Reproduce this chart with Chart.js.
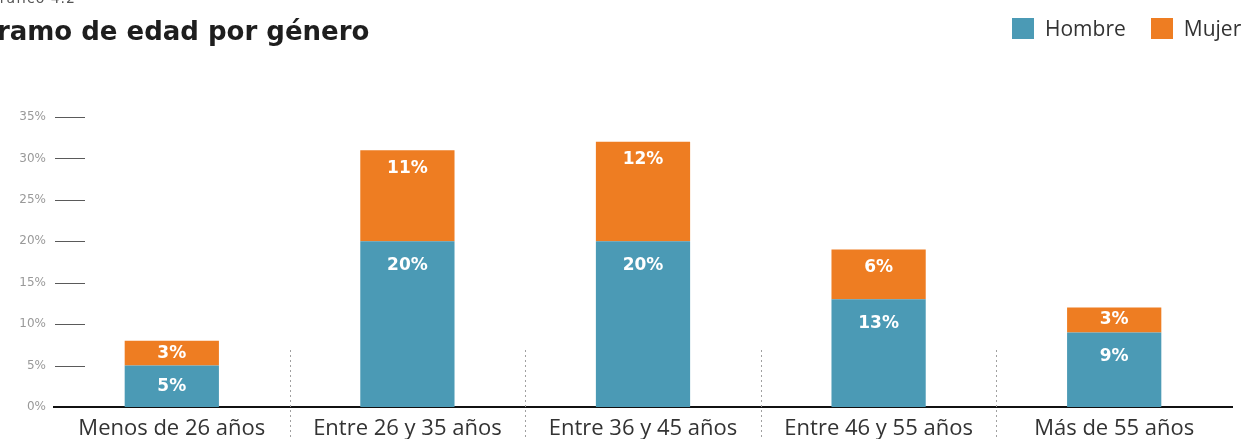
<!DOCTYPE html>
<html>
<head>
<meta charset="utf-8">
<script src="https://cdn.jsdelivr.net/npm/chart.js@4"></script>
<style>
  html, body { margin: 0; padding: 0; background: #fff; }
  #wrap { position: relative; width: 1248px; height: 439px; overflow: hidden; }
  canvas { position: absolute; left: 0; top: 0; }
  .sup { position: absolute; left: -12px; top: -10px; font: 14px "DejaVu Sans", sans-serif; color: #555; letter-spacing: 1px; }
  .title { position: absolute; left: -18px; top: 16px; font: bold 26px "DejaVu Sans", sans-serif; color: #1e1e1e; }
  .legend { position: absolute; top: 14px; left: 1012px; font: 21px "Open Sans", sans-serif; color: #333; display: flex; align-items: center; }
  .legend .sw { width: 22px; height: 21px; margin-right: 11px; }
  .legend .it { display: flex; align-items: center; margin-right: 25px; }
</style>
</head>
<body>
<div id="wrap">
  <canvas id="c" width="1248" height="439"></canvas>
  <div class="sup">Gráfico 4.2</div>
  <div class="title">Tramo de edad por género</div>
  <div class="legend" id="legend"></div>
</div>
<script>
const categories = ["Menos de 26 años", "Entre 26 y 35 años", "Entre 36 y 45 años", "Entre 46 y 55 años", "Más de 55 años"];
const seriesNames = ["Hombre", "Mujer"];
const hombre = [5, 20, 20, 13, 9];
const mujer = [3, 11, 12, 6, 3];
const yTicks = [0, 5, 10, 15, 20, 25, 30, 35];

const colors = ["#4b9ab5", "#ee7d22"];
const labelOffsets = [24, 18];

// HTML legend
const lg = document.getElementById('legend');
seriesNames.forEach((n, i) => {
  const it = document.createElement('div'); it.className = 'it';
  const sw = document.createElement('div'); sw.className = 'sw'; sw.style.background = colors[i];
  const tx = document.createElement('span'); tx.textContent = n;
  it.appendChild(sw); it.appendChild(tx); lg.appendChild(it);
});

const decorPlugin = {
  id: 'decor',
  afterDatasetsDraw(chart) {
    const ctx = chart.ctx;
    const ca = chart.chartArea;
    const y = chart.scales.y, x = chart.scales.x;
    ctx.save();
    // short tick lines
    ctx.strokeStyle = '#5a5a5a';
    ctx.lineWidth = 1;
    yTicks.forEach(v => {
      if (v === 0) return;
      const py = Math.round(y.getPixelForValue(v)) + 0.5;
      ctx.beginPath(); ctx.moveTo(ca.left + 1, py); ctx.lineTo(ca.left + 31, py); ctx.stroke();
    });
    // dotted separators
    ctx.strokeStyle = '#a0a0a0';
    ctx.setLineDash([2, 3]);
    for (let i = 1; i < categories.length; i++) {
      const px = Math.round((x.getPixelForValue(i - 1) + x.getPixelForValue(i)) / 2) + 0.5;
      ctx.beginPath(); ctx.moveTo(px, 350); ctx.lineTo(px, chart.height); ctx.stroke();
    }
    ctx.setLineDash([]);
    // value labels
    ctx.fillStyle = '#fff';
    ctx.font = 'bold 17px "DejaVu Sans", sans-serif';
    ctx.textAlign = 'center';
    ctx.textBaseline = 'middle';
    chart.data.datasets.forEach((ds, di) => {
      const meta = chart.getDatasetMeta(di);
      meta.data.forEach((bar, i) => {
        const top = Math.min(bar.y, bar.base);
        const h = Math.abs(bar.base - bar.y);
        const ly = top + Math.min(labelOffsets[di], h / 2);
        ctx.fillText(ds.data[i] + '%', bar.x, ly);
      });
    });
    ctx.restore();
  }
};

new Chart(document.getElementById('c'), {
  type: 'bar',
  data: {
    labels: categories,
    datasets: [
      { label: seriesNames[0], data: hombre, backgroundColor: colors[0] },
      { label: seriesNames[1], data: mujer, backgroundColor: colors[1] }
    ]
  },
  options: {
    responsive: false,
    animation: false,
    layout: { padding: { top: 117, right: 16, bottom: 0, left: 0 } },
    plugins: { legend: { display: false }, tooltip: { enabled: false } },
    datasets: { bar: { categoryPercentage: 0.8, barPercentage: 0.5 } },
    scales: {
      x: {
        stacked: true,
        grid: { display: false },
        border: { display: true, color: '#111', width: 2 },
        ticks: { color: '#333', font: { size: 22, family: '"Open Sans", sans-serif' }, padding: 1, maxRotation: 0 },
        afterFit(s) { s.height = 32; }
      },
      y: {
        stacked: true,
        min: 0, max: 35,
        afterBuildTicks(s) { s.ticks = yTicks.map(v => ({ value: v })); },
        grid: { display: false },
        border: { display: false },
        ticks: { color: '#999', padding: 0, font: { size: 12, family: '"DejaVu Sans", sans-serif' }, callback: v => v + '%' },
        afterFit(s) { s.width = 54; }
      }
    }
  },
  plugins: [decorPlugin]
});
</script>
</body>
</html>
